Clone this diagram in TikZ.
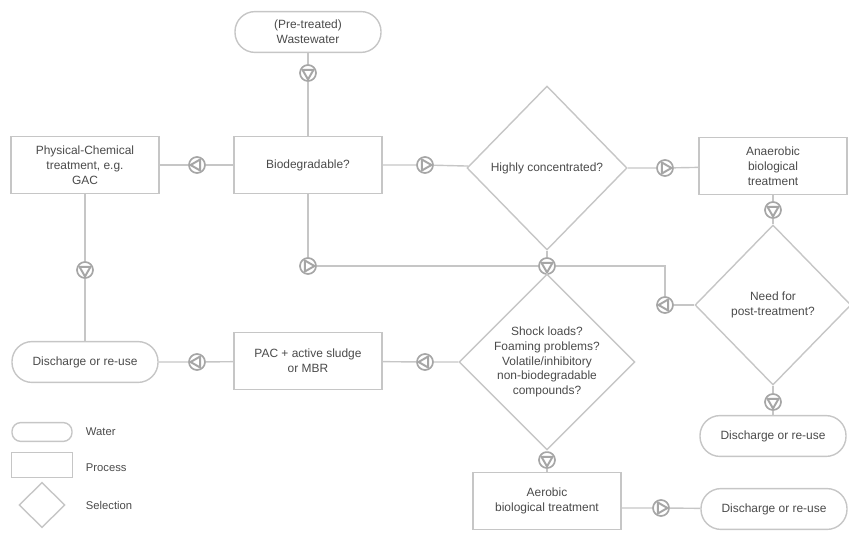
\documentclass[tikz,border=0pt]{standalone}
\usepackage{fontspec}
\setmainfont{Liberation Sans}
\usetikzlibrary{shapes.geometric}
\definecolor{linec}{HTML}{C6C6C6}
\definecolor{valvec}{HTML}{A6A6A6}
\definecolor{textc}{HTML}{4A4A4A}
\tikzset{
  box/.style={draw=linec, line width=1pt, align=center, text=textc,
    font=\fontsize{8.5}{10.5}\selectfont, inner sep=2pt},
  water/.style={box, rounded corners=0.5cm, minimum width=3.65cm, minimum height=1.02cm},
  process/.style={box, minimum width=3.7cm, minimum height=1.43cm},
  select/.style={box, diamond, inner sep=0pt},
  valve/.style={circle, draw=valvec, line width=1.2pt, fill=white,
    minimum size=0.4cm, inner sep=0pt},
  vr/.style={valve, path picture={\draw[valvec, line width=1.4pt, line join=round]
    ([shift={(#1:0.16cm)}]path picture bounding box.center)
    -- ([shift={(#1+120:0.16cm)}]path picture bounding box.center)
    -- ([shift={(#1+240:0.16cm)}]path picture bounding box.center) -- cycle;}},
  vr/.default=0,
  vl/.style={vr=180},
  vd/.style={vr=-90},
  conn/.style={draw=linec, line width=1pt},
  legend/.style={text=textc, font=\fontsize{8}{10}\selectfont, anchor=west}
}
\begin{document}
\begin{tikzpicture}[x=0.025cm, y=-0.025cm]
\useasboundingbox (0,0) rectangle (849,545);

\node[water] (ww) at (308,32) {(Pre-treated)\\Wastewater};
\node[process] (bio) at (308,165) {Biodegradable?};
\node[process] (phys) at (85,165) {Physical-Chemical\\treatment, e.g.\\GAC};
\node[select, minimum width=4cm, minimum height=4.1cm] (hc) at (547,168) {Highly concentrated?};
\node[process] (anaer) at (773,166) {Anaerobic\\biological\\treatment};
\node[select, minimum width=3.9cm, minimum height=4cm] (npt) at (773,305) {Need for\\post-treatment?};
\node[select, minimum width=4.2cm, minimum height=4.1cm] (shock) at (547,362) {Shock loads?\\Foaming problems?\\Volatile/inhibitory\\non-biodegradable\\compounds?};
\node[process] (pac) at (308,361) {PAC + active sludge\\or MBR};
\node[water] (dis1) at (85,362) {Discharge or re-use};
\node[water] (dis2) at (773,436) {Discharge or re-use};
\node[process] (aer) at (547,501) {Aerobic\\biological treatment};
\node[water] (dis3) at (774,509) {Discharge or re-use};

\node[vd] (v1) at (308,73) {};
\node[vl] (v2) at (197,165) {};
\node[vr] (v3) at (425,165) {};
\node[vr] (v4) at (665,168) {};
\node[vd] (v5) at (773,210) {};
\node[vd] (v6) at (773,402) {};
\node[vr] (v7) at (308,266) {};
\node[vl] (v8) at (665,305) {};
\node[vd] (v9) at (547,266) {};
\node[vl] (v10) at (425,362) {};
\node[vl] (v11) at (197,362) {};
\node[vd] (v12) at (85,270) {};
\node[vd] (v13) at (547,460) {};
\node[vr] (v14) at (661,508) {};

\draw[conn] (ww) -- (v1) -- (bio);
\draw[conn] (bio) -- (v2) -- (phys);
\draw[conn] (bio) -- (v3) -- (hc);
\draw[conn] (hc) -- (v4) -- (anaer);
\draw[conn] (anaer) -- (v5) -- (npt);
\draw[conn] (npt) -- (v6) -- (dis2);
\draw[conn] (bio) -- (v7) -- (v9);
\draw[conn] (v9) -| (v8);
\draw[conn] (v8) -- (npt);
\draw[conn] (hc) -- (v9) -- (shock);
\draw[conn] (shock) -- (v10) -- (pac) -- (v11) -- (dis1);
\draw[conn] (phys) -- (v12) -- (dis1);
\draw[conn] (shock) -- (v13) -- (aer);
\draw[conn] (aer.east |- v14) -- (v14) -- (dis3);

\node[box, rounded corners=0.22cm, minimum width=1.5cm, minimum height=0.47cm] (lw) at (42,432) {};
\node[box, minimum width=1.52cm, minimum height=0.62cm] (lp) at (42,465) {};
\node[select, minimum width=1.15cm, minimum height=1.13cm] (ls) at (42,505) {};
\node[legend] (lwt) at (81,432) {Water};
\node[legend] (lpt) at (81,468) {Process};
\node[legend] (lst) at (81,505) {Selection};
\end{tikzpicture}
\end{document}
